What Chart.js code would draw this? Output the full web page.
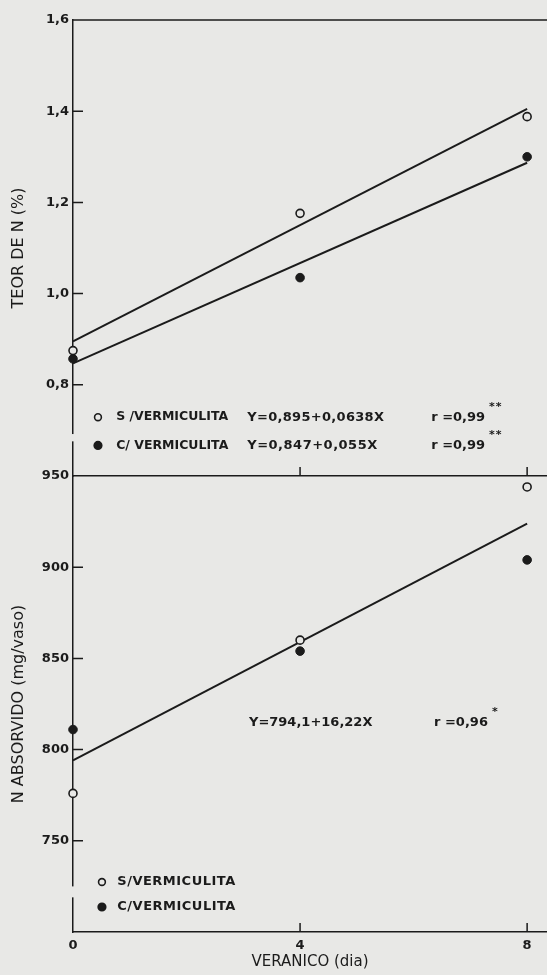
<!DOCTYPE html>
<html>
<head>
<meta charset="utf-8">
<script src="https://cdn.jsdelivr.net/npm/chart.js@4.4.1/dist/chart.umd.min.js"></script>
<style>
  html, body { margin: 0; padding: 0; background: #e8e8e6; }
  #wrap { position: relative; width: 547px; height: 975px; overflow: hidden; }
  canvas { position: absolute; left: 0; }
</style>
</head>
<body>
<div id="wrap">
  <canvas id="teor" width="547" height="490" style="top:0"></canvas>
  <canvas id="absorvido" width="547" height="515" style="top:460px"></canvas>
</div>
<script>
// dias de veranico
const days = [0, 4, 8];
const fitDays = [0, 8];
const xTicks = [0, 4, 8];

// teor de N (%)
const teorSem = [0.875, 1.176, 1.388];
const teorCom = [0.857, 1.035, 1.300];
const teorFitSem = [0.895, 1.405];
const teorFitCom = [0.847, 1.287];
const teorTicks = [0.8, 1.0, 1.2, 1.4, 1.6];

// N absorvido (mg/vaso)
const absSem = [776, 860, 944];
const absCom = [811, 854, 904];
const absFit = [794.1, 923.9];
const absTicks = [750, 800, 850, 900, 950];

const INK = '#1b1b1b';
const PAPER = '#e8e8e6';
const FONT = "'DejaVu Sans', sans-serif";
const BOLD = "bold 13px 'DejaVu Sans', sans-serif";

const pts = (xs, ys) => xs.map((x, i) => ({x: x, y: ys[i]}));

// inward ticks, top frame, legend text and equations
const frame = {
  id: 'frame',
  afterDraw(chart, args, opts) {
    const {ctx, chartArea: a, scales: {x, y}} = chart;
    ctx.save();
    ctx.strokeStyle = INK;
    ctx.lineWidth = 1.5;
    ctx.beginPath();
    if (opts.topLine) {
      ctx.moveTo(a.left - 0.75, a.top);
      ctx.lineTo(chart.width, a.top);
    }
    opts.yTicks.forEach(v => {
      if (v <= y.min || v >= y.max) return;
      const py = y.getPixelForValue(v);
      ctx.moveTo(a.left, py);
      ctx.lineTo(a.left + 10, py);
    });
    xTicks.forEach(v => {
      if (v <= x.min) return;
      const px = x.getPixelForValue(v);
      ctx.moveTo(px, a.bottom);
      ctx.lineTo(px, a.bottom - 9);
    });
    ctx.stroke();

    if (opts.gap) {
      const g1 = y.getPixelForValue(opts.gap[0]);
      const g2 = y.getPixelForValue(opts.gap[1]);
      ctx.fillStyle = PAPER;
      ctx.fillRect(a.left - 2, Math.min(g1, g2), 4, Math.abs(g2 - g1));
    }

    (opts.markers || []).forEach(m => {
      ctx.beginPath();
      ctx.arc(x.getPixelForValue(m.x), y.getPixelForValue(m.y), m.filled ? 3.8 : 3.4, 0, Math.PI * 2);
      ctx.fillStyle = m.filled ? INK : PAPER;
      ctx.fill();
      ctx.lineWidth = 1.6;
      ctx.stroke();
    });

    ctx.fillStyle = INK;
    ctx.textAlign = 'left';
    ctx.textBaseline = 'middle';
    (opts.notes || []).forEach(n => {
      ctx.font = n.font || BOLD;
      ctx.letterSpacing = (n.spacing || 0) + 'px';
      const px = x.getPixelForValue(n.x);
      const py = y.getPixelForValue(n.y);
      ctx.fillText(n.text, px, py);
      if (n.sup) {
        const w = ctx.measureText(n.text).width;
        ctx.font = "bold 11px 'DejaVu Sans', sans-serif";
        ctx.letterSpacing = '1px';
        ctx.fillText(n.sup, px + w + 4, py - 10);
      }
    });
    ctx.restore();
  }
};

function yScale(min, max, ticks, title, fmt) {
  return {
    min: min, max: max,
    afterBuildTicks: s => { s.ticks = ticks.map(v => ({value: v})); },
    afterFit: s => { s.width = 73; },
    grid: {display: false, drawTicks: false},
    border: {display: true, color: INK, width: 1.5},
    ticks: {color: INK, padding: 4, font: {family: FONT, size: 13, weight: 'bold'}, callback: fmt},
    title: {display: true, text: title, color: INK, font: {family: FONT, size: 16}, padding: {top: 9, bottom: 0}}
  };
}

function xScale(height, showLabels) {
  return {
    type: 'linear', min: 0, max: 8.35,
    afterBuildTicks: s => { s.ticks = xTicks.map(v => ({value: v})); },
    afterFit: s => { s.height = height; },
    grid: {display: false, drawTicks: false},
    border: {display: true, color: INK, width: 1.5},
    ticks: {display: showLabels, color: INK, padding: 6, font: {family: FONT, size: 13, weight: 'bold'}},
    title: {display: showLabels, text: 'VERANICO (dia)', color: INK, font: {family: FONT, size: 15}, padding: {top: 4, bottom: 4}}
  };
}

const openPoint = {pointStyle: 'circle', pointRadius: 4, pointBorderWidth: 1.6, pointBackgroundColor: PAPER, pointBorderColor: INK, showLine: false, clip: false};
const fullPoint = {pointStyle: 'circle', pointRadius: 4.3, pointBorderWidth: 1, pointBackgroundColor: INK, pointBorderColor: INK, showLine: false, clip: false};
const fitLine = {showLine: true, pointRadius: 0, borderColor: INK, borderWidth: 2, clip: false};

const common = {
  responsive: false,
  animation: false,
  events: [],
  plugins: {legend: {display: false}, tooltip: {enabled: false}}
};

new Chart(document.getElementById('teor'), {
  type: 'scatter',
  data: {
    datasets: [
      Object.assign({label: 'S/VERMICULITA', data: pts(days, teorSem)}, openPoint),
      Object.assign({label: 'C/VERMICULITA', data: pts(days, teorCom)}, fullPoint),
      Object.assign({label: 'Y=0,895+0,0638X', data: pts(fitDays, teorFitSem)}, fitLine),
      Object.assign({label: 'Y=0,847+0,055X', data: pts(fitDays, teorFitCom)}, fitLine)
    ]
  },
  options: Object.assign({}, common, {
    layout: {autoPadding: false, padding: {top: 20, right: 0, bottom: 0, left: 0}},
    scales: {
      x: xScale(14, false),
      y: yScale(0.6, 1.6, teorTicks, 'TEOR DE N (%)', v => v.toFixed(1).replace('.', ','))
    },
    plugins: Object.assign({}, common.plugins, {
      frame: {
        topLine: true,
        yTicks: teorTicks,
        gap: [0.676, 0.692],
        markers: [{x: 0.44, y: 0.729, filled: false}, {x: 0.44, y: 0.667, filled: true}],
        notes: [
          {x: 0.76, y: 0.729, text: 'S /VERMICULITA', font: "bold 12.5px 'DejaVu Sans', sans-serif"},
          {x: 0.76, y: 0.667, text: 'C/ VERMICULITA', font: "bold 12.5px 'DejaVu Sans', sans-serif"},
          {x: 3.07, y: 0.729, text: 'Y=0,895+0,0638X', spacing: 0.3},
          {x: 3.07, y: 0.667, text: 'Y=0,847+0,055X', spacing: 0.5},
          {x: 6.31, y: 0.729, text: 'r =0,99', sup: '**'},
          {x: 6.31, y: 0.667, text: 'r =0,99', sup: '**'}
        ]
      }
    })
  }),
  plugins: [frame]
});

new Chart(document.getElementById('absorvido'), {
  type: 'scatter',
  data: {
    datasets: [
      Object.assign({label: 'S/VERMICULITA', data: pts(days, absSem)}, openPoint),
      Object.assign({label: 'C/VERMICULITA', data: pts(days, absCom)}, fullPoint),
      Object.assign({label: 'Y=794,1+16,22X', data: pts(fitDays, absFit)}, fitLine)
    ]
  },
  options: Object.assign({}, common, {
    layout: {autoPadding: false, padding: {top: 16, right: 0, bottom: 0, left: 0}},
    scales: {
      x: xScale(43, true),
      y: yScale(700, 950, absTicks, 'N ABSORVIDO (mg/vaso)', v => String(v))
    },
    plugins: Object.assign({}, common.plugins, {
      frame: {
        topLine: false,
        yTicks: absTicks,
        gap: [719, 725],
        markers: [{x: 0.51, y: 727.4, filled: false}, {x: 0.51, y: 713.7, filled: true}],
        notes: [
          {x: 0.78, y: 727.4, text: 'S/VERMICULITA', spacing: 0.5},
          {x: 0.78, y: 713.7, text: 'C/VERMICULITA', spacing: 0.5},
          {x: 3.10, y: 815, text: 'Y=794,1+16,22X'},
          {x: 6.36, y: 815, text: 'r =0,96', sup: '*'}
        ]
      }
    })
  }),
  plugins: [frame]
});
</script>
</body>
</html>
